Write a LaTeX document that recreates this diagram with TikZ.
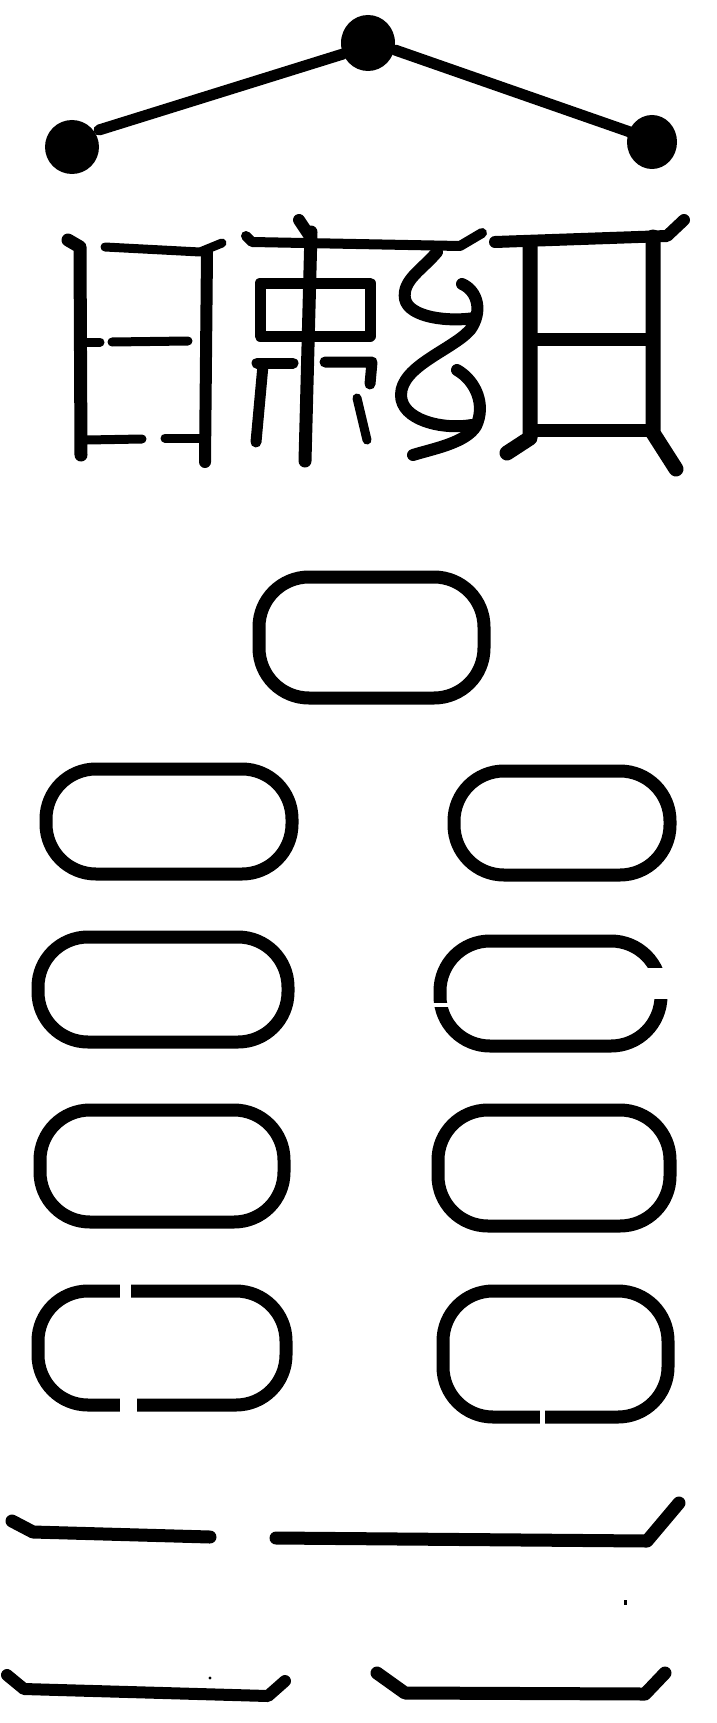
\documentclass[tikz,border=0pt]{standalone}
\begin{document}
\begin{tikzpicture}[x=1pt,y=-1pt,
  ink/.style={draw=black,line cap=round,line join=round},
  oval/.style={draw=black,line width=13pt,rounded corners=50pt},
  gap/.style={fill=white}]
\useasboundingbox (0,0) rectangle (717,1723);
\fill[white] (0,0) rectangle (717,1723);
% top: three dots and two lines
\draw[ink,line width=11pt] (99,130) -- (343,54);
\draw[ink,line width=11pt] (395,50) -- (630,132);
\fill (368,43) ellipse [x radius=27, y radius=28];
\fill (72,147) ellipse [x radius=27, y radius=27];
\fill (652,142) ellipse [x radius=25, y radius=27];
% character 1
\draw[ink,line width=13pt] (68,240) -- (80,247) -- (81,455);
\draw[ink,line width=9pt] (105,247) -- (200,252) -- (222,243);
\draw[ink,line width=12pt] (207,252) -- (205,462);
\draw[ink,line width=9pt] (87,342) -- (100,342);
\draw[ink,line width=9pt] (112,342) -- (188,341);
\draw[ink,line width=9pt] (87,440) -- (142,439);
\draw[ink,line width=9pt] (165,438) -- (203,438);
% character 2
\draw[ink,line width=10pt] (246,236) -- (252,242) -- (460,246) -- (482,233);
\draw[ink,line width=12pt] (299,220) -- (311,238);
\draw[ink,line width=13pt] (311,232) -- (305,461);
\draw[ink,line width=11pt] (260,283) rectangle (370,336);
\draw[ink,line width=11pt] (257,363) -- (293,363);
\draw[ink,line width=11pt] (263,365) -- (256,442);
\draw[ink,line width=11pt] (325,362) -- (372,362) -- (370,384);
\draw[ink,line width=9pt] (357,398) -- (367,440);
\draw[ink,line width=12pt] (437,252) .. controls (422,270) and (402,280) .. (405,299) .. controls (409,318) and (450,322) .. (474,318);
\draw[ink,line width=12pt] (462,284) .. controls (478,291) and (483,312) .. (470,330) .. controls (452,350) and (401,366) .. (401,395) .. controls (401,420) and (442,430) .. (472,425);
\draw[ink,line width=12pt] (457,370) .. controls (476,381) and (486,405) .. (476,426) .. controls (466,443) and (432,449) .. (413,455);
% character 3
\draw[ink,line width=12pt] (495,242) -- (667,236) -- (684,220);
\draw[ink,line width=15pt] (530,247) -- (530,438) -- (507,453);
\draw[ink,line width=15pt] (653,237) -- (653,433) -- (676,469);
\draw[ink,line width=13pt] (530,339) -- (653,339);
\draw[ink,line width=13pt] (530,430) -- (653,430);
% ovals
\draw[oval] (259,577) rectangle (484,698);
\draw[oval] (46,769) rectangle (292,874);
\draw[oval] (454,771) rectangle (670,875);
\draw[oval] (38,937) rectangle (288,1042);
\draw[oval] (440,941) rectangle (661,1046);
\draw[oval] (40,1110) rectangle (284,1222);
\draw[oval] (438,1110) rectangle (670,1226);
\draw[oval] (38,1291) rectangle (286,1405);
\draw[oval] (443,1291) rectangle (668,1417);
\fill[gap] (646,968) rectangle (682,999);
\fill[gap] (428,1003) rectangle (452,1007);
\fill[gap] (120,1280) rectangle (131,1302);
\fill[gap] (120,1394) rectangle (137,1416);
\fill[gap] (540,1405) rectangle (545,1428);
% bottom lines
\draw[ink,line width=13pt] (12,1521) -- (33,1532) -- (210,1537);
\draw[ink,line width=13pt] (276,1538) -- (647,1541) -- (679,1503);
\fill (624,1600) rectangle (627,1605);
\draw[ink,line width=12pt] (7,1675) -- (24,1689) -- (268,1696) -- (285,1681);
\draw[ink,line width=13pt] (377,1673) -- (405,1693) -- (645,1694) -- (665,1673);
\fill (210,1678) circle [radius=1.6];
\end{tikzpicture}
\end{document}
